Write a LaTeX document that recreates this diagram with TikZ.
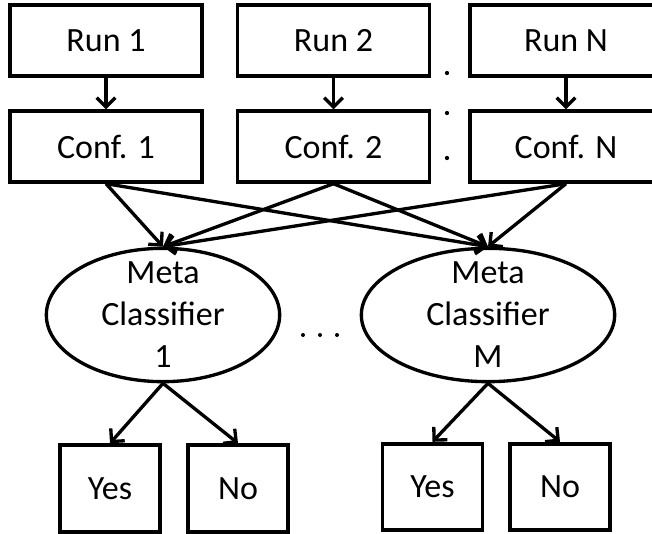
\documentclass[tikz,border=0pt]{standalone}
\usepackage{fontspec}
\setmainfont{Carlito}
\usetikzlibrary{shapes.geometric,arrows.meta}
\tikzset{runbox/.style={draw,line width=2.8pt,minimum width=144pt,minimum height=53pt,inner sep=0pt,font=\fontsize{25.5}{30}\selectfont}}
\tikzset{leafbox/.style={draw,line width=2.8pt,minimum width=75pt,minimum height=65pt,inner sep=0pt,font=\fontsize{25.5}{30}\selectfont}}
\tikzset{metanode/.style={draw,ellipse,line width=2.5pt,minimum height=100pt,inner xsep=0pt,inner ysep=-20pt,align=center,font=\fontsize{25.5}{31.5}\selectfont}}
\tikzset{link/.style={->,line width=2.5pt}}
\tikzset{>={Straight Barb[length=7pt,width=14pt,line width=2.5pt]}}

\begin{document}
\begin{tikzpicture}[x=0.75pt,y=-0.75pt]
\useasboundingbox (0,0) rectangle (652,534);
% runs and their confidences
\node[runbox](run1) at (106,40.5){Run 1};
\node[runbox](run2) at (333.5,40.5){Run 2};
\node[runbox](runN) at (566,40.5){Run N};
\node[runbox](conf1) at (106,146.5){Conf. 1};
\node[runbox](conf2) at (333.5,146.5){Conf. 2};
\node[runbox](confN) at (566,146.5){Conf. N};
\foreach \y in {73,113,158}
\fill (447,\y) circle (1.6pt);
% meta classifiers
\node[metanode,minimum width=175pt](meta1) at (163,315){Meta\\Classifier\\1};
\node[metanode,minimum width=190pt](metaM) at (488,315){Meta\\Classifier\\M};
\foreach \x in {303,320,337}
\fill (\x,335) circle (1.5pt);
% answers
\node[leafbox](yes1) at (110,488.5){Yes};
\node[leafbox](no1) at (238,488.5){No};
\node[leafbox](yesM) at (432.5,487){Yes};
\node[leafbox](noM) at (560,487){No};
\foreach \a/\b in {run1/conf1,run2/conf2,runN/confN}
\draw[link](\a.south)--(\b.north);
\foreach \c in {conf1,conf2,confN}
{\draw[link](\c.south)--(meta1.north);
\draw[link](\c.south)--(metaM.north);}
\foreach \m/\y/\n in {meta1/yes1/no1,metaM/yesM/noM}
{\draw[link](\m.south)--(\y.north);
\draw[link](\m.south)--(\n.north);}
\end{tikzpicture}
\end{document}
